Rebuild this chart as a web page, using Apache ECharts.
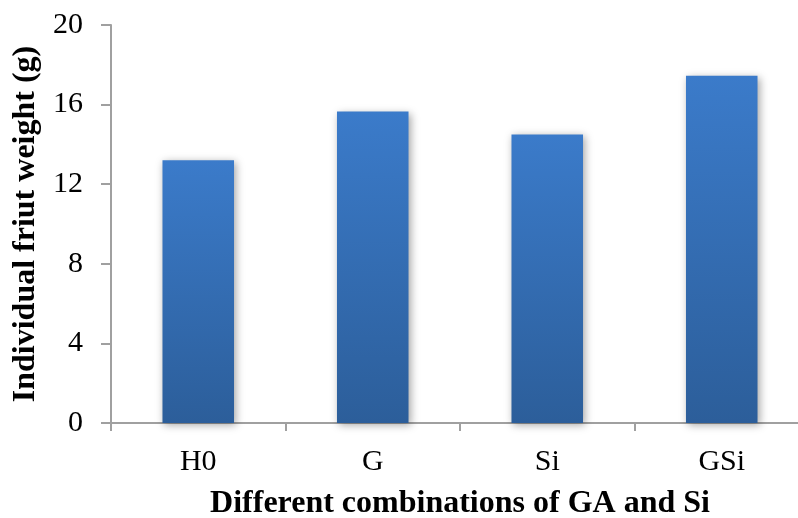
<!DOCTYPE html>
<html><head><meta charset="utf-8">
<script src="https://cdn.jsdelivr.net/npm/echarts@6/dist/echarts.min.js"></script>
<style>html,body{margin:0;padding:0;background:#fff}#c{width:798px;height:518px}</style>
</head><body><div id="c"></div>
<script>
const categories = ['H0', 'G', 'Si', 'GSi'];
const weights = [13.2, 15.65, 14.5, 17.45];
const yTicks = [0, 4, 8, 12, 16, 20];

const chart = echarts.init(document.getElementById('c'), null, {renderer: 'canvas'});
const axisColor = '#a0a0a0';
const font = '"Liberation Serif", "Times New Roman", serif';
chart.setOption({
  animation: false,
  backgroundColor: '#fff',
  grid: {left: 111, top: 25, width: 698, height: 398, containLabel: false, outerBoundsMode: 'none'},
  xAxis: {
    type: 'category', data: categories,
    name: 'Different combinations of GA and Si', nameLocation: 'middle', nameGap: 65,
    nameTextStyle: {fontFamily: font, fontSize: 32, fontWeight: 'bold', color: '#000'},
    axisLine: {lineStyle: {color: axisColor, width: 2}},
    axisTick: {show: true, length: 8, lineStyle: {color: axisColor, width: 2}},
    axisLabel: {fontFamily: font, fontSize: 30, color: '#000', margin: 24}
  },
  yAxis: {
    type: 'value', min: yTicks[0], max: yTicks[yTicks.length - 1], interval: 4,
    name: 'Individual friut weight (g)', nameLocation: 'middle', nameGap: 62,
    nameTextStyle: {fontFamily: font, fontSize: 32, fontWeight: 'bold', color: '#000'},
    axisLine: {show: true, lineStyle: {color: axisColor, width: 2}},
    axisTick: {show: true, length: 10, lineStyle: {color: axisColor, width: 2}},
    splitLine: {show: false},
    axisLabel: {fontFamily: font, fontSize: 30, color: '#000', margin: 28}
  },
  series: [{
    type: 'bar', data: weights, barWidth: '41%',
    itemStyle: {
      color: new echarts.graphic.LinearGradient(0, 0, 0, 1, [
        {offset: 0, color: '#3b7bca'},
        {offset: 1, color: '#2c5e9a'}
      ]),
      shadowColor: 'rgba(0,0,0,0.35)', shadowBlur: 8, shadowOffsetX: 2, shadowOffsetY: 2
    }
  }]
});
</script></body></html>
